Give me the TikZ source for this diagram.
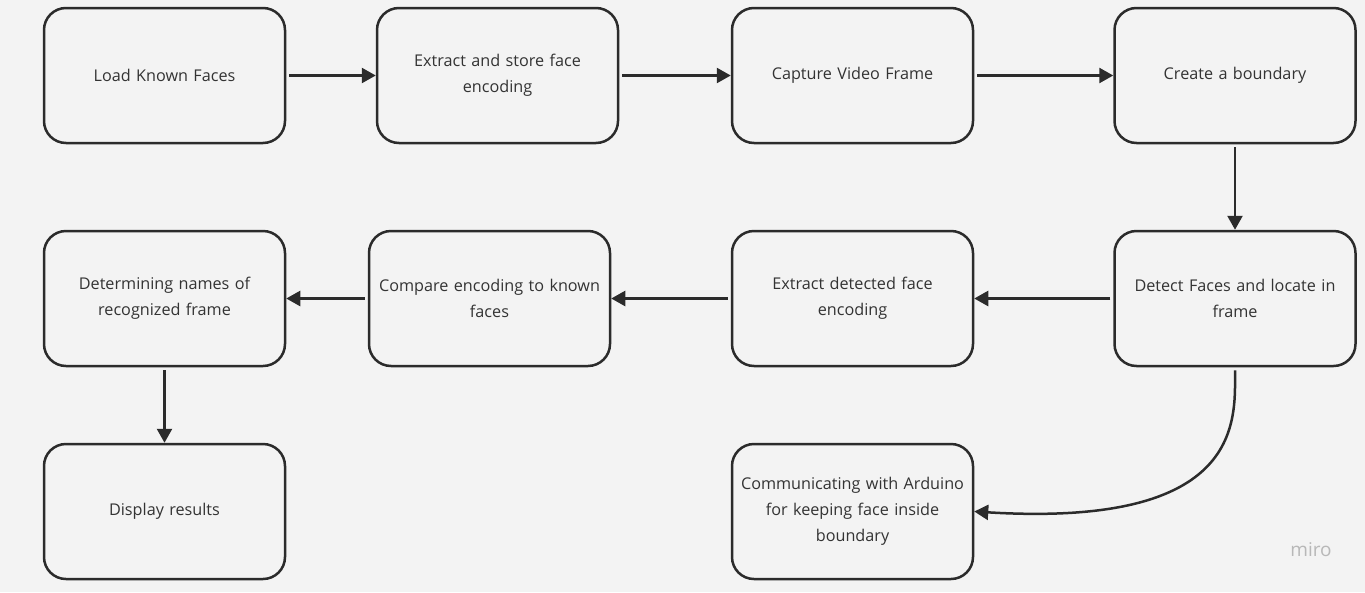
\documentclass[tikz,border=0pt]{standalone}
\usepackage{fontspec}
\setmainfont{Open Sans}
\usetikzlibrary{arrows.meta}
\definecolor{bg}{HTML}{F3F3F3}
\definecolor{ink}{HTML}{2B2B2B}
\definecolor{txt}{HTML}{333333}
\begin{document}
\begin{tikzpicture}[x=1pt,y=-1pt,
  box/.style={draw=ink,line width=2.5pt,rounded corners=22pt,fill=bg,
    minimum width=241pt,minimum height=135pt,inner sep=0pt,
    text width=237pt,align=center,font=\fontsize{16.2}{26}\selectfont,text=txt},
  conn/.style={draw=ink,line width=2.5pt,shorten <=3pt,
    -{Triangle[length=14pt,width=15pt]}}]
\fill[bg] (0,0) rectangle (1365,592);
\useasboundingbox (0,0) rectangle (1365,592);
\node[box] (load) at (164.5,75.5) {Load Known Faces};
\node[box] (store) at (497.5,75.5) {Extract and store face\\encoding};
\node[box] (capture) at (852.5,75.5) {Capture Video Frame};
\node[box] (bound) at (1235,75.5) {Create a boundary};
\node[box] (detect) at (1235,298.5) {Detect Faces and locate in\\frame};
\node[box] (extract) at (852.5,298.5) {Extract detected face\\encoding};
\node[box] (compare) at (489.5,298.5) {Compare encoding to known\\faces};
\node[box] (names) at (164.5,298.5) {Determining names of\\recognized frame};
\node[box] (display) at (164.5,511.5) {Display results};
\node[box] (arduino) at (852.5,511.5) {Communicating with Arduino\\for keeping face inside\\boundary};
\node[text=black!28,font=\fontsize{19}{20}\selectfont] (miro) at (1311,550) {miro};
\draw[conn] (load) -- (store);
\draw[conn] (store) -- (capture);
\draw[conn] (capture) -- (bound);
\draw[conn] (bound) -- (detect);
\draw[conn] (detect) -- (extract);
\draw[conn] (extract) -- (compare);
\draw[conn] (compare) -- (names);
\draw[conn] (names) -- (display);
\draw[conn] (detect.south) .. controls (1235,420) and (1245,528) .. (arduino.east);
\end{tikzpicture}
\end{document}
